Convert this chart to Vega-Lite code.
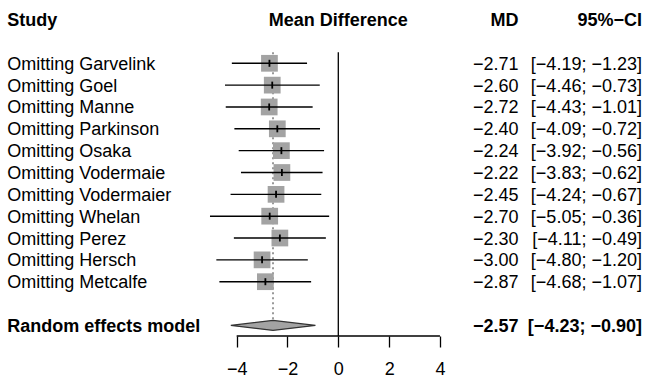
{
  "$schema": "https://vega.github.io/schema/vega-lite/v6.json",
  "width": 648,
  "height": 336,
  "autosize": "none",
  "padding": {"left": 0, "top": 0, "right": 0, "bottom": 41},
  "background": "white",
  "config": {
    "view": {"stroke": null},
    "text": {"font": "Liberation Sans", "fontSize": 18, "color": "black", "baseline": "middle", "dy": 1.5}
  },
  "datasets": {
    "studies": [
      {"study": "Omitting Garvelink", "row": 0, "md": -2.71, "lower": -4.19, "upper": -1.23},
      {"study": "Omitting Goel", "row": 1, "md": -2.60, "lower": -4.46, "upper": -0.73},
      {"study": "Omitting Manne", "row": 2, "md": -2.72, "lower": -4.43, "upper": -1.01},
      {"study": "Omitting Parkinson", "row": 3, "md": -2.40, "lower": -4.09, "upper": -0.72},
      {"study": "Omitting Osaka", "row": 4, "md": -2.24, "lower": -3.92, "upper": -0.56},
      {"study": "Omitting Vodermaie", "row": 5, "md": -2.22, "lower": -3.83, "upper": -0.62},
      {"study": "Omitting Vodermaier", "row": 6, "md": -2.45, "lower": -4.24, "upper": -0.67},
      {"study": "Omitting Whelan", "row": 7, "md": -2.70, "lower": -5.05, "upper": -0.36},
      {"study": "Omitting Perez", "row": 8, "md": -2.30, "lower": -4.11, "upper": -0.49},
      {"study": "Omitting Hersch", "row": 9, "md": -3.00, "lower": -4.80, "upper": -1.20},
      {"study": "Omitting Metcalfe", "row": 10, "md": -2.87, "lower": -4.68, "upper": -1.07}
    ],
    "pooled": [
      {"study": "Random effects model", "row": 12, "md": -2.57, "lower": -4.23, "upper": -0.90}
    ]
  },
  "encoding": {
    "x": {"type": "quantitative", "scale": {"domain": [-13.314, 12.188], "nice": false, "zero": false},
      "axis": {"values": [-4, -2, 0, 2, 4], "domain": false, "grid": false, "title": null,
        "tickColor": "black", "tickSize": 11, "tickWidth": 1.3,
        "labelFont": "Liberation Sans", "labelFontSize": 18, "labelColor": "black",
        "labelBaseline": "alphabetic", "labelPadding": 27, "labelFlush": false, "labelOverlap": false, "format": "d"}},
    "y": {"type": "quantitative", "scale": {"domain": [-2.898, 12.486], "nice": false, "zero": false, "reverse": true}, "axis": null}
  },
  "layer": [
    {"data": {"name": "pooled"}, "mark": {"type": "rule", "color": "black", "strokeWidth": 1.3},
      "encoding": {"x": {"datum": 0}, "y": {"datum": -0.5}, "y2": {"datum": 12.486}}},
    {"data": {"name": "pooled"}, "mark": {"type": "rule", "color": "#555555", "strokeWidth": 1.2, "strokeDash": [2, 3]},
      "encoding": {"x": {"field": "md"}, "y": {"datum": -0.5}, "y2": {"datum": 11.75}}},
    {"data": {"name": "pooled"}, "mark": {"type": "rule", "color": "black", "strokeWidth": 1.3},
      "encoding": {"x": {"datum": -4}, "x2": {"datum": 4}, "y": {"datum": 12.486}}},
    {"data": {"name": "studies"}, "mark": {"type": "point", "shape": "square", "filled": true, "color": "#a3a3a3", "opacity": 1, "size": 280},
      "encoding": {"x": {"field": "md"}, "y": {"field": "row"}}},
    {"data": {"name": "studies"}, "mark": {"type": "rule", "color": "black", "strokeWidth": 1.4},
      "encoding": {"x": {"field": "lower"}, "x2": {"field": "upper"}, "y": {"field": "row"}}},
    {"data": {"name": "studies"}, "mark": {"type": "point", "shape": "M0,-1L0,1", "filled": false, "color": "black", "opacity": 1, "strokeWidth": 1.8, "size": 49},
      "encoding": {"x": {"field": "md"}, "y": {"field": "row"}}},
    {"data": {"name": "pooled"},
      "transform": [
        {"fold": ["lower", "md", "upper"], "as": ["pt", "xv"]},
        {"calculate": "datum.pt == 'md' ? datum.row - 0.23 : datum.row", "as": "ytop"},
        {"calculate": "datum.pt == 'md' ? datum.row + 0.23 : datum.row", "as": "ybot"}
      ],
      "mark": {"type": "area", "orient": "vertical", "color": "#a3a3a3", "opacity": 1, "stroke": "#333333", "strokeWidth": 1.1, "line": false},
      "encoding": {"x": {"field": "xv"}, "y": {"field": "ytop"}, "y2": {"field": "ybot"}}},
    {"data": {"name": "studies"}, "mark": {"type": "text", "align": "left"},
      "encoding": {"x": {"datum": -13.03}, "y": {"field": "row"}, "text": {"field": "study"}}},
    {"data": {"name": "studies"}, "mark": {"type": "text", "align": "right"},
      "encoding": {"x": {"datum": 7.09}, "y": {"field": "row"}, "text": {"field": "md", "type": "quantitative", "format": ".2f"}}},
    {"data": {"name": "studies"},
      "transform": [{"calculate": "'[' + format(datum.lower, '.2f') + '; ' + format(datum.upper, '.2f') + ']'", "as": "ci"}],
      "mark": {"type": "text", "align": "right"},
      "encoding": {"x": {"datum": 11.95}, "y": {"field": "row"}, "text": {"field": "ci"}}},
    {"data": {"name": "pooled"}, "mark": {"type": "text", "align": "left", "fontWeight": "bold"},
      "encoding": {"x": {"datum": -13.03}, "y": {"field": "row"}, "text": {"field": "study"}}},
    {"data": {"name": "pooled"}, "mark": {"type": "text", "align": "right", "fontWeight": "bold"},
      "encoding": {"x": {"datum": 7.09}, "y": {"field": "row"}, "text": {"field": "md", "type": "quantitative", "format": ".2f"}}},
    {"data": {"name": "pooled"},
      "transform": [{"calculate": "'[' + format(datum.lower, '.2f') + '; ' + format(datum.upper, '.2f') + ']'", "as": "ci"}],
      "mark": {"type": "text", "align": "right", "fontWeight": "bold"},
      "encoding": {"x": {"datum": 11.95}, "y": {"field": "row"}, "text": {"field": "ci"}}},
    {"data": {"name": "pooled"}, "mark": {"type": "text", "align": "left", "fontWeight": "bold"},
      "encoding": {"x": {"datum": -13.03}, "y": {"datum": -2}, "text": {"value": "Study"}}},
    {"data": {"name": "pooled"}, "mark": {"type": "text", "align": "center", "fontWeight": "bold"},
      "encoding": {"x": {"datum": 0}, "y": {"datum": -2}, "text": {"value": "Mean Difference"}}},
    {"data": {"name": "pooled"}, "mark": {"type": "text", "align": "right", "fontWeight": "bold"},
      "encoding": {"x": {"datum": 7.09}, "y": {"datum": -2}, "text": {"value": "MD"}}},
    {"data": {"name": "pooled"}, "mark": {"type": "text", "align": "right", "fontWeight": "bold"},
      "encoding": {"x": {"datum": 11.95}, "y": {"datum": -2}, "text": {"value": "95%−CI"}}}
  ]
}
